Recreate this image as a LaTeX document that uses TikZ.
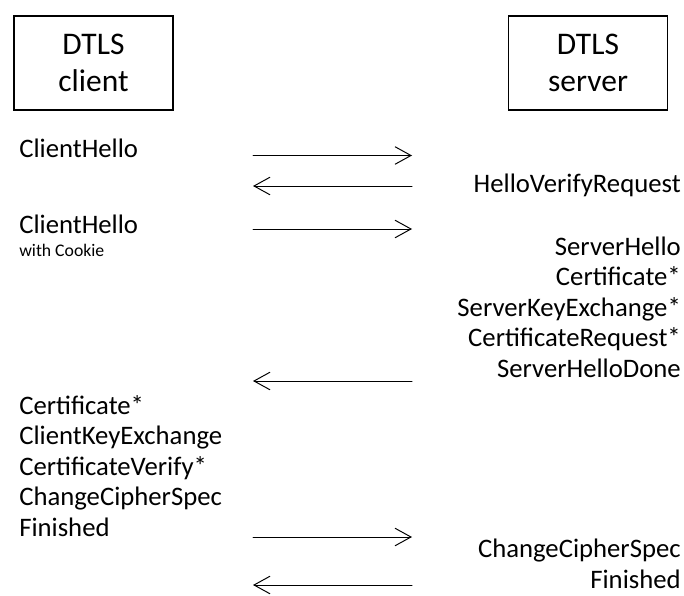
\documentclass[tikz,border=0pt]{standalone}
\usepackage{fontspec}
\setmainfont{Carlito}
\usepackage{tkz-euclide}
\usetikzlibrary{arrows.meta}

\tikzset{
  party/.style={draw,line width=1.4pt,minimum width=3.975cm,minimum height=2.35cm,
    align=center,font=\fontsize{22.4}{26.6}\selectfont},
  msgtext/.style={inner sep=0pt,font=\fontsize{19}{22.8}\selectfont},
  note/.style={inner sep=0pt,font=\fontsize{12.6}{15}\selectfont},
  msg/.style={-{Straight Barb[length=4mm,width=4.4mm]}}
}

\begin{document}
\begin{tikzpicture}
    \useasboundingbox (0,0) rectangle (17.1,-14.875);
    \tkzSetUpLine[line width=0.7pt,color=black]

    \node[party] (client) at (2.3375,-1.575) {DTLS\\client};
    \node[party] (server) at (14.7,-1.575) {DTLS\\server};

    \tkzDefPoints{6.325/-3.8875/Ca, 10.3/-3.8875/Sa,
                  6.325/-4.65/Cb,   10.3/-4.65/Sb,
                  6.325/-5.725/Cc,  10.3/-5.725/Sc,
                  6.325/-9.525/Cd,  10.3/-9.525/Sd,
                  6.325/-13.425/Ce, 10.3/-13.425/Se,
                  6.325/-14.625/Cf, 10.3/-14.625/Sf}
    \tkzDrawSegments[msg](Ca,Sa Sb,Cb Cc,Sc Sd,Cd Ce,Se Sf,Cf)

    % client side
    \node[msgtext,anchor=base west] (hello) at (0.475,-3.95) {ClientHello};
    \node[msgtext,anchor=base west] (hello2) at (0.475,-5.825) {ClientHello};
    \node[note,anchor=base west] (cookie) at (0.475,-6.4) {with Cookie};
    \foreach \t [count=\i] in {Certificate*,ClientKeyExchange,CertificateVerify*,ChangeCipherSpec,Finished}
        \node[msgtext,anchor=base west] (cl\i) at (0.475,{-10.35-0.7625*(\i-1)}) {\t};

    % server side
    \node[msgtext,anchor=base east] (verify) at (17.025,-4.8) {HelloVerifyRequest};
    \foreach \t [count=\i] in {ServerHello,Certificate*,ServerKeyExchange*,CertificateRequest*,ServerHelloDone}
        \node[msgtext,anchor=base east] (sv\i) at (17.025,{-6.375-0.7625*(\i-1)}) {\t};
    \node[msgtext,anchor=base east] (ccs) at (17.025,-13.9375) {ChangeCipherSpec};
    \node[msgtext,anchor=base east] (fin) at (17.025,-14.7) {Finished};
\end{tikzpicture}
\end{document}
